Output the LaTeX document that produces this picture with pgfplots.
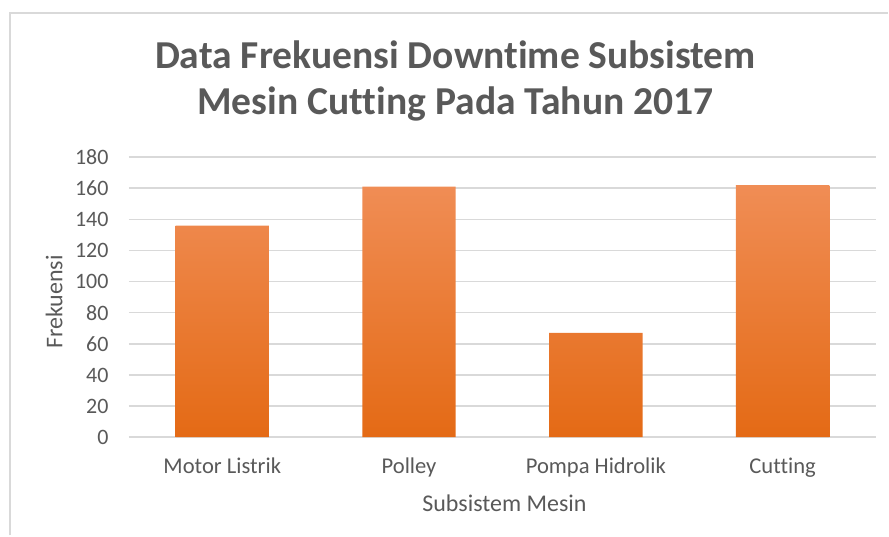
\documentclass[border=0pt]{standalone}
\usepackage{pgfplots}
\pgfplotsset{compat=1.18}
\usepackage{fontspec}
\setmainfont{Carlito}[Ligatures=NoCommon]
\definecolor{txtgray}{HTML}{595959}
\definecolor{gridgray}{HTML}{D9D9D9}
\definecolor{bartop}{HTML}{F08D55}
\definecolor{barmid}{HTML}{F27E2C}
\definecolor{barbot}{HTML}{E46A15}

\begin{document}
\begin{tikzpicture}
% page frame (889 x 536 px, 1px = 0.5pt)
\path (0,0) rectangle (444.5pt,268pt);
\draw[gridgray, line width=1pt] (5pt,0) -- (5pt,261.5pt) -- (444.5pt,261.5pt);

\node[font=\fontsize{19.8}{23}\selectfont\bfseries, text=txtgray, anchor=base, inner sep=0pt]
  at (228pt,233.5pt) {Data Frekuensi Downtime Subsistem};
\node[font=\fontsize{19.8}{23}\selectfont\bfseries, text=txtgray, anchor=base, inner sep=0pt]
  at (228pt,210.5pt) {Mesin Cutting Pada Tahun 2017};

\begin{axis}[
  at={(64.5pt,49.15pt)}, anchor=south west,
  scale only axis, width=374pt, height=140.2pt,
  xmin=-0.5, xmax=3.5, ymin=0, ymax=180,
  ytick={0,20,...,180},
  xtick=data,
  xticklabels={Motor Listrik, Polley, Pompa Hidrolik, Cutting},
  axis line style={draw=none},
  ymajorgrids=true, grid style={gridgray, line width=0.75pt},
  major tick length=0pt,
  tick label style={font=\fontsize{11}{13}\selectfont, text=txtgray},
  xticklabel style={font=\fontsize{11.3}{13}\selectfont, inner sep=0pt, yshift=-10pt},
  /pgf/number format/assume math mode=true,
  yticklabel style={inner sep=0pt, xshift=-10pt},
  xlabel={Subsistem Mesin},
  ylabel={Frekuensi},
  label style={font=\fontsize{12}{14}\selectfont, text=txtgray, inner sep=0pt},
  xlabel style={at={(axis description cs:0.5,0)}, anchor=base, yshift=-37.15pt, xshift=1pt},
  ylabel style={at={(axis description cs:0,0.5)}, anchor=south, yshift=33pt, xshift=-2.5pt},
  clip=false,
]
\draw[gridgray, line width=0.75pt] (axis cs:-0.5,0) -- (axis cs:3.5,0);
\addplot[ybar, bar width=0.5, draw=none, top color=bartop, middle color=barmid, bottom color=barbot]
  coordinates {(0,136) (1,161) (2,67) (3,162)};
\end{axis}
\end{tikzpicture}
\end{document}
